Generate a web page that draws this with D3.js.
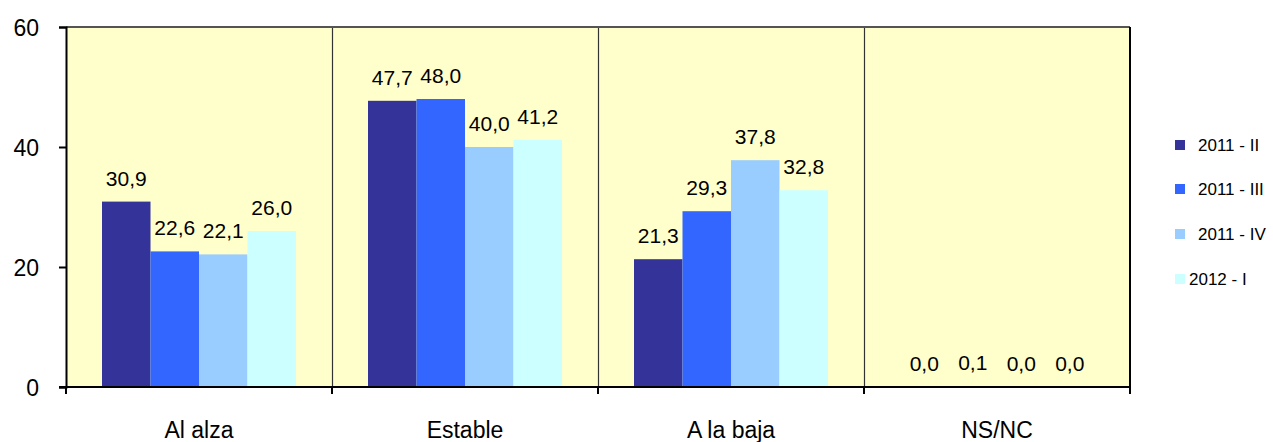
<!DOCTYPE html>
<html>
<head>
<meta charset="utf-8">
<style>
body { margin:0; background:#fff; }
text { font-family: "Liberation Sans", Arial, sans-serif; fill:#000; }
</style>
</head>
<body>
<div id="chart"></div>
<script src="https://d3js.org/d3.v7.min.js"></script>
<script>
var categories = ["Al alza", "Estable", "A la baja", "NS/NC"];
var series = ["2011 - II", "2011 - III", "2011 - IV", "2012 - I"];
var values = [
  [30.9, 47.7, 21.3, 0.0],   // 2011 - II
  [22.6, 48.0, 29.3, 0.1],   // 2011 - III
  [22.1, 40.0, 37.8, 0.0],   // 2011 - IV
  [26.0, 41.2, 32.8, 0.0]    // 2012 - I
];
var yTicks = [0, 20, 40, 60];
var colors = ["#333399", "#3366FF", "#99CCFF", "#CCFFFF"];

var W = 1273, H = 442;
var pLeft = 66, pRight = 1130, pTop = 27, pBottom = 387;

var svg = d3.select("#chart").append("svg")
  .attr("width", W)
  .attr("height", H);

var x = d3.scaleBand().domain(categories).range([pLeft, pRight]);
var xs = d3.scaleBand().domain(series).range([36, 230]);
var y = d3.scaleLinear().domain([0, 60]).range([pBottom, pTop]);

// plot background
svg.append("rect")
  .attr("x", pLeft).attr("y", pTop)
  .attr("width", pRight - pLeft).attr("height", pBottom - pTop)
  .style("fill", "#FFFFCC");

// category separators
categories.slice(1).forEach(function(c) {
  svg.append("line")
    .attr("x1", x(c) + 0.5).attr("x2", x(c) + 0.5)
    .attr("y1", pTop).attr("y2", pBottom)
    .style("stroke", "#333").style("stroke-width", 1.2);
});

// bars
series.forEach(function(s, i) {
  var g = svg.append("g");
  g.selectAll("rect")
    .data(values[i])
    .enter().append("rect")
    .attr("x", function(d, j) { return x(categories[j]) + xs(s); })
    .attr("y", function(d) { return y(d); })
    .attr("width", xs.bandwidth())
    .attr("height", function(d) { return pBottom - y(d); })
    .style("fill", colors[i]);
  g.selectAll("text")
    .data(values[i])
    .enter().append("text")
    .attr("x", function(d, j) { return x(categories[j]) + xs(s) + xs.bandwidth() / 2; })
    .attr("y", function(d) { return y(d) - 16; })
    .style("text-anchor", "middle")
    .style("font-size", "21px")
    .text(function(d) { return d.toFixed(1).replace(".", ","); });
});

// borders
svg.append("line")
  .attr("x1", pLeft).attr("x2", pRight)
  .attr("y1", pTop).attr("y2", pTop)
  .style("stroke", "#555").style("stroke-width", 2);
svg.append("line")
  .attr("x1", pRight).attr("x2", pRight)
  .attr("y1", pTop).attr("y2", pBottom)
  .style("stroke", "#000").style("stroke-width", 2);

// y axis
var yAxis = svg.append("g")
  .attr("transform", "translate(" + pLeft + ",0)")
  .call(d3.axisLeft(y).tickValues(yTicks).tickSize(7).tickPadding(20));
yAxis.select(".domain").style("stroke", "#000").style("stroke-width", 2);
yAxis.selectAll(".tick line").style("stroke", "#000").style("stroke-width", 2);
yAxis.selectAll("text").style("font-size", "23px").attr("dy", "0.35em");

// x axis
var xAxis = svg.append("g")
  .attr("transform", "translate(0," + pBottom + ")")
  .call(d3.axisBottom(x).tickSize(0).tickPadding(35));
xAxis.select(".domain").attr("d", "M" + (pLeft - 7) + ",0H" + pRight)
  .style("stroke", "#000").style("stroke-width", 2);
xAxis.selectAll("text").style("font-size", "23px");
var edges = categories.map(function(c) { return x(c); }).concat([pRight]);
xAxis.selectAll(".edge")
  .data(edges)
  .enter().append("line")
  .attr("x1", function(d) { return d; }).attr("x2", function(d) { return d; })
  .attr("y1", 0).attr("y2", 7)
  .style("stroke", "#000").style("stroke-width", 2);

// legend
var legY = [145, 189, 234, 279];
var legend = svg.append("g");
series.forEach(function(s, i) {
  legend.append("rect")
    .attr("x", 1175).attr("y", legY[i] - 5)
    .attr("width", 10).attr("height", 10)
    .style("fill", colors[i]);
  legend.append("text")
    .attr("x", i === 3 ? 1189 : 1198).attr("y", legY[i])
    .attr("dy", "0.35em")
    .style("font-size", "17px")
    .text(s);
});
</script>
</body>
</html>
